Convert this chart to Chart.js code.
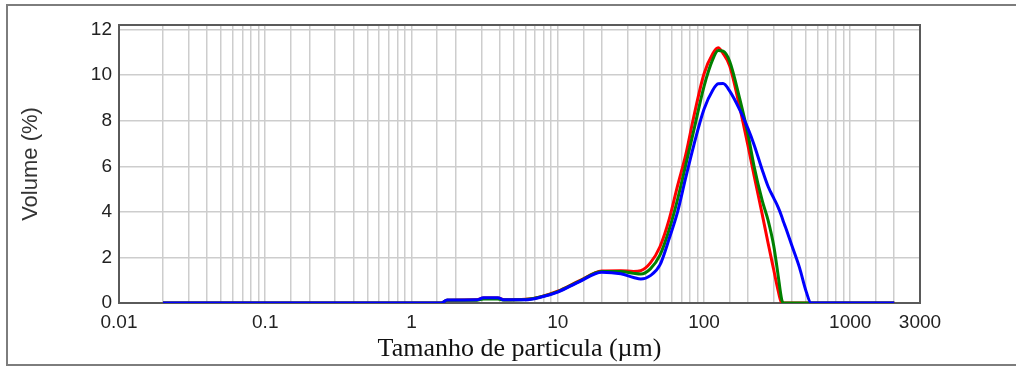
<!DOCTYPE html>
<html><head><meta charset="utf-8">
<script src="https://cdn.jsdelivr.net/npm/chart.js@4/dist/chart.umd.min.js"></script>
<style>html,body{margin:0;padding:0;background:#fff;}</style>
</head><body>
<canvas id="c" width="1016" height="367"></canvas>
<script>
// Particle size classes (µm)
const sizes = [0.02, 1.6, 1.75, 2.8, 3.1, 3.9, 4.3, 6, 7.6, 10, 14, 20, 27, 33, 37, 43, 50, 58, 66, 75, 85, 100, 115, 125, 135, 150, 175, 200, 220, 250, 275, 300, 320, 340, 350, 360, 400, 450, 500, 540, 2000];
// Volume (%) per sample
const redValues   = [0, 0, 0.12, 0.14, 0.22, 0.22, 0.14, 0.16, 0.27, 0.52, 0.97, 1.40, 1.42, 1.38, 1.42, 1.76, 2.47, 3.70, 5.15, 6.50, 8.15, 10.05, 10.95, 11.20, 10.95, 10.40, 8.63, 6.90, 5.60, 3.90, 2.60, 1.45, 0.60, 0, 0, 0, 0, 0, 0, 0, 0];
const greenValues = [0, 0, 0.12, 0.12, 0.18, 0.18, 0.13, 0.15, 0.26, 0.50, 0.95, 1.38, 1.38, 1.30, 1.27, 1.50, 2.10, 3.25, 4.55, 6.05, 7.55, 9.50, 10.70, 11.08, 11.05, 10.60, 9.00, 7.40, 6.00, 4.50, 3.60, 2.50, 1.30, 0.15, 0, 0, 0, 0, 0, 0, 0];
const blueValues  = [0, 0, 0.13, 0.14, 0.23, 0.23, 0.14, 0.14, 0.25, 0.48, 0.93, 1.35, 1.28, 1.12, 1.05, 1.20, 1.67, 2.85, 4.00, 5.50, 6.90, 8.50, 9.35, 9.62, 9.63, 9.30, 8.50, 7.65, 6.95, 5.85, 5.10, 4.60, 4.23, 3.80, 3.55, 3.35, 2.50, 1.55, 0.50, 0, 0];
// Axis tick labels
const xTickValues = [0.01, 0.1, 1, 10, 100, 1000, 3000];
const xTickLabels = ['0.01', '0.1', '1', '10', '100', '1000', '3000'];
const yTickValues = [0, 2, 4, 6, 8, 10, 12];

const toPts = vals => sizes.map((s, i) => ({x: s, y: vals[i]}));

const framePlugin = {
  id: 'frame',
  beforeDraw(chart) {
    const ctx = chart.ctx;
    ctx.save();
    ctx.fillStyle = '#fff';
    ctx.fillRect(0, 0, chart.width, chart.height);
    ctx.strokeStyle = '#7d7d7d';
    ctx.lineWidth = 2;
    ctx.strokeRect(7, 5, 1030, 360);
    ctx.restore();
  },
  beforeDatasetsDraw(chart) {
    const {ctx, chartArea: a} = chart;
    ctx.save();
    ctx.strokeStyle = '#5a5a5a';
    ctx.lineWidth = 2;
    ctx.strokeRect(a.left, a.top, a.right - a.left, a.bottom - a.top);
    ctx.restore();
  }
};

const ds = (label, vals, color, order) => ({
  label, data: toPts(vals), borderColor: color, backgroundColor: color,
  borderWidth: 3, pointRadius: 0, fill: false, tension: 0.4,
  cubicInterpolationMode: 'monotone', order
});

new Chart(document.getElementById('c'), {
  type: 'line',
  data: {
    datasets: [
      ds('Amostra 1', redValues, '#ff0000', 3),
      ds('Amostra 2', greenValues, '#008000', 2),
      ds('Amostra 3', blueValues, '#0000ff', 1)
    ]
  },
  plugins: [framePlugin],
  options: {
    responsive: false,
    animation: false,
    devicePixelRatio: 1,
    layout: {padding: {left: 0, top: 25, right: 96, bottom: 0}},
    plugins: {legend: {display: false}, tooltip: {enabled: false}},
    scales: {
      x: {
        type: 'logarithmic', min: 0.01, max: 3000,
        afterFit(s) { s.height = 64; },
        grid: {color: '#cdcdcd', lineWidth: 1.5, drawTicks: false},
        border: {display: false},
        ticks: {
          autoSkip: false, maxRotation: 0, padding: 8, color: '#222',
          font: {family: 'Liberation Sans', size: 19},
          callback(v) {
            for (let i = 0; i < xTickValues.length; i++) {
              if (Math.abs(v - xTickValues[i]) < xTickValues[i] * 1e-6) return xTickLabels[i];
            }
            return '';
          }
        },
        title: {display: true, text: 'Tamanho de particula (µm)', color: '#111',
          font: {family: 'Liberation Serif', size: 26}, padding: {top: 0, bottom: 2}}
      },
      y: {
        min: 0, max: 12.2,
        afterFit(s) { s.width = 119; },
        afterBuildTicks(s) { s.ticks = yTickValues.map(v => ({value: v})); },
        grid: {color: '#cdcdcd', lineWidth: 1.5, drawTicks: false},
        border: {display: false},
        ticks: {padding: 7, color: '#222', font: {family: 'Liberation Sans', size: 19}},
        title: {display: true, text: 'Volume (%)', color: '#333',
          font: {family: 'Liberation Sans', size: 22}, padding: {top: 18, bottom: 0}}
      }
    }
  }
});
</script>
</body></html>
